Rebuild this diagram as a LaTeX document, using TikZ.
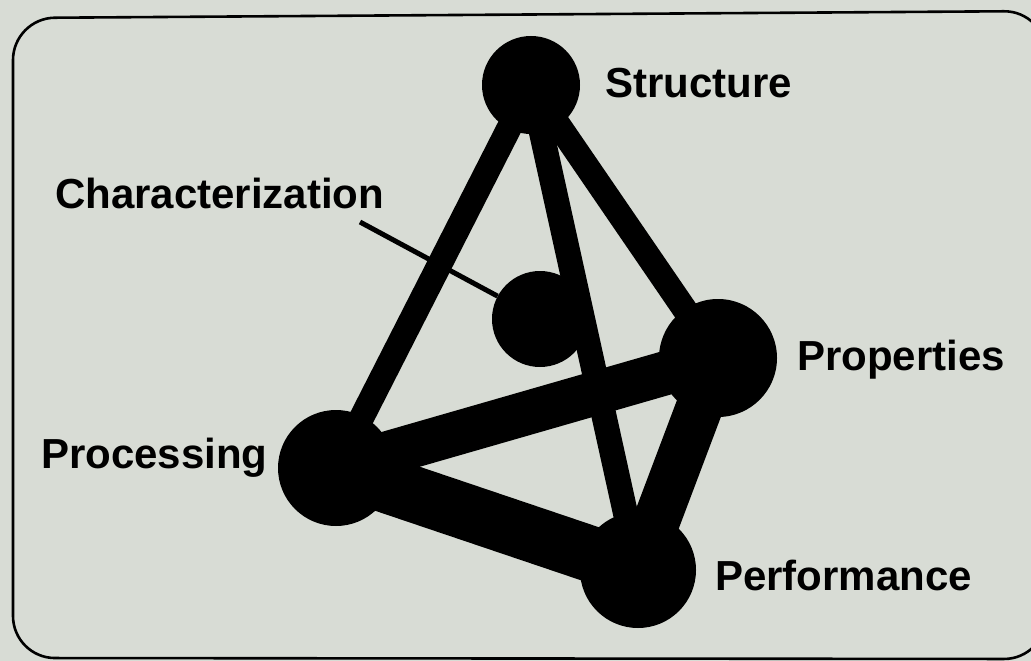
\documentclass[tikz,border=0pt]{standalone}
\usepackage{fontspec}
\setmainfont{Liberation Sans}
\definecolor{paper}{RGB}{216,220,213}
\begin{document}
\begin{tikzpicture}[x=1pt,y=-1pt,
  ball/.style={circle,fill=black,inner sep=0pt,minimum size=#1},
  lbl/.style={anchor=base west,inner sep=0pt,font=\fontsize{42}{42}\selectfont\bfseries},
  thin bar/.style={line width=25pt},
  frame/.style={line width=2.6pt,rounded corners=42pt}]
\useasboundingbox (0,0) rectangle (1031,661);
\fill[paper] (0,0) rectangle (1031,661);
\draw[frame] (13,18) -- (1046,11) -- (1046,659) -- (13,658) -- cycle;

\node[ball=98pt] (str) at (531,85) {};
\node[ball=96pt] (cha) at (540,319) {};
\node[ball=118pt] (pro) at (718,358) {};
\node[ball=116pt] (prc) at (336,468) {};
\node[ball=116pt] (per) at (638,570) {};

\draw[thin bar] (str.center) -- (prc.center);
\draw[thin bar] (str.center) -- (per.center);
\draw[thin bar] (str.center) -- (pro.center);
\draw[line width=44pt] (prc.center) -- (pro.center);
\draw[line width=56pt] (prc.center) -- (per.center);
\draw[line width=47pt] (pro.center) -- (per.center);

\coordinate (chaend) at (360,222);
\draw[line width=5pt] (chaend) -- (cha);

\node[lbl] (tstr) at (605,98) {Structure};
\node[lbl] (tcha) at (55,208) {Characterization};
\node[lbl] (tpro) at (797,370) {Properties};
\node[lbl] (tprc) at (41,468) {Processing};
\node[lbl] (tper) at (715,590) {Performance};
\end{tikzpicture}
\end{document}
